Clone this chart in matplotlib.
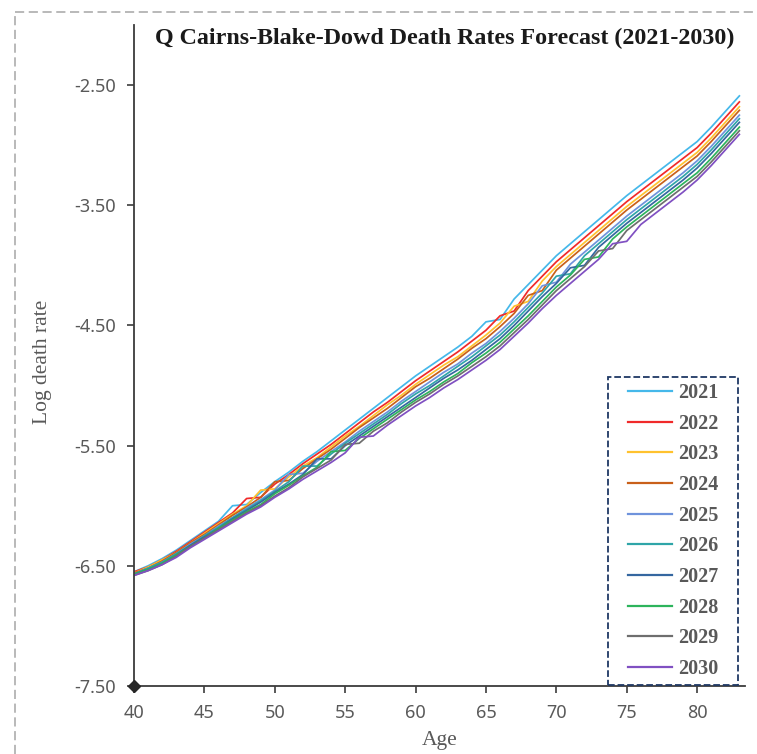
import numpy as np
import matplotlib
matplotlib.use("Agg")
import matplotlib.pyplot as plt
from matplotlib.lines import Line2D
from matplotlib.patches import Rectangle

# ages on the x axis
ages = np.arange(40, 84)

# log death rates, one list per forecast year
y2021 = [-6.55, -6.50, -6.44, -6.37, -6.29, -6.21, -6.13, -6.00, -5.99, -5.89,
         -5.80, -5.72, -5.63, -5.55, -5.46, -5.37, -5.28, -5.19, -5.10, -5.01,
         -4.92, -4.84, -4.76, -4.68, -4.59, -4.47, -4.45, -4.28, -4.16, -4.04,
         -3.92, -3.82, -3.72, -3.62, -3.52, -3.42, -3.33, -3.24, -3.15, -3.06,
         -2.97, -2.85, -2.72, -2.59]
y2022 = [-6.55, -6.51, -6.45, -6.38, -6.30, -6.22, -6.14, -6.06, -5.94, -5.93,
         -5.82, -5.74, -5.65, -5.57, -5.49, -5.40, -5.31, -5.22, -5.14, -5.05,
         -4.96, -4.88, -4.80, -4.72, -4.63, -4.54, -4.42, -4.38, -4.21, -4.09,
         -3.97, -3.87, -3.77, -3.67, -3.57, -3.47, -3.38, -3.29, -3.20, -3.11,
         -3.02, -2.90, -2.77, -2.64]
y2023 = [-6.56, -6.51, -6.45, -6.39, -6.31, -6.23, -6.15, -6.07, -6.00, -5.87,
         -5.86, -5.76, -5.67, -5.60, -5.51, -5.42, -5.34, -5.25, -5.16, -5.08,
         -4.99, -4.91, -4.83, -4.76, -4.67, -4.58, -4.48, -4.34, -4.30, -4.13,
         -4.01, -3.91, -3.81, -3.71, -3.61, -3.51, -3.42, -3.33, -3.24, -3.15,
         -3.06, -2.94, -2.81, -2.68]
y2024 = [-6.56, -6.52, -6.46, -6.39, -6.31, -6.24, -6.16, -6.08, -6.01, -5.93,
         -5.80, -5.79, -5.69, -5.61, -5.53, -5.44, -5.35, -5.27, -5.19, -5.10,
         -5.01, -4.94, -4.86, -4.78, -4.69, -4.61, -4.51, -4.40, -4.25, -4.21,
         -4.04, -3.94, -3.84, -3.74, -3.64, -3.54, -3.45, -3.36, -3.27, -3.18,
         -3.09, -2.97, -2.84, -2.71]
y2025 = [-6.57, -6.52, -6.47, -6.40, -6.32, -6.25, -6.17, -6.10, -6.02, -5.95,
         -5.87, -5.74, -5.73, -5.63, -5.55, -5.47, -5.38, -5.30, -5.22, -5.13,
         -5.05, -4.97, -4.89, -4.82, -4.73, -4.65, -4.55, -4.44, -4.32, -4.17,
         -4.14, -3.99, -3.89, -3.79, -3.69, -3.59, -3.50, -3.41, -3.32, -3.23,
         -3.13, -3.01, -2.88, -2.75]
y2026 = [-6.57, -6.52, -6.47, -6.40, -6.33, -6.25, -6.18, -6.10, -6.03, -5.96,
         -5.88, -5.80, -5.67, -5.67, -5.57, -5.48, -5.40, -5.32, -5.24, -5.15,
         -5.07, -5.00, -4.92, -4.84, -4.76, -4.67, -4.58, -4.47, -4.35, -4.23,
         -4.09, -4.07, -3.92, -3.82, -3.72, -3.62, -3.53, -3.44, -3.35, -3.26,
         -3.16, -3.04, -2.91, -2.78]
y2027 = [-6.57, -6.53, -6.48, -6.41, -6.33, -6.26, -6.19, -6.11, -6.04, -5.97,
         -5.89, -5.82, -5.74, -5.61, -5.61, -5.50, -5.42, -5.34, -5.26, -5.18,
         -5.10, -5.02, -4.94, -4.87, -4.79, -4.70, -4.61, -4.50, -4.38, -4.26,
         -4.15, -4.02, -4.00, -3.85, -3.75, -3.65, -3.56, -3.47, -3.38, -3.29,
         -3.19, -3.07, -2.94, -2.81]
y2028 = [-6.57, -6.53, -6.48, -6.41, -6.34, -6.27, -6.19, -6.12, -6.05, -5.99,
         -5.90, -5.83, -5.75, -5.68, -5.55, -5.54, -5.44, -5.36, -5.28, -5.20,
         -5.12, -5.05, -4.97, -4.90, -4.81, -4.73, -4.64, -4.53, -4.42, -4.30,
         -4.18, -4.08, -3.95, -3.93, -3.78, -3.68, -3.59, -3.50, -3.41, -3.32,
         -3.23, -3.11, -2.98, -2.85]
y2029 = [-6.58, -6.54, -6.49, -6.42, -6.34, -6.27, -6.20, -6.13, -6.06, -6.00,
         -5.92, -5.85, -5.76, -5.69, -5.62, -5.49, -5.48, -5.38, -5.31, -5.22,
         -5.14, -5.07, -4.99, -4.92, -4.84, -4.76, -4.67, -4.56, -4.45, -4.33,
         -4.21, -4.11, -4.01, -3.88, -3.86, -3.71, -3.62, -3.53, -3.44, -3.35,
         -3.26, -3.14, -3.01, -2.88]
y2030 = [-6.58, -6.54, -6.49, -6.43, -6.35, -6.28, -6.21, -6.14, -6.07, -6.01,
         -5.93, -5.86, -5.78, -5.71, -5.64, -5.56, -5.43, -5.42, -5.33, -5.25,
         -5.17, -5.10, -5.02, -4.95, -4.87, -4.79, -4.70, -4.59, -4.48, -4.36,
         -4.25, -4.15, -4.05, -3.95, -3.82, -3.80, -3.66, -3.57, -3.48, -3.39,
         -3.29, -3.17, -3.04, -2.91]

years = ["2021", "2022", "2023", "2024", "2025",
         "2026", "2027", "2028", "2029", "2030"]
series = [y2021, y2022, y2023, y2024, y2025,
          y2026, y2027, y2028, y2029, y2030]
colors = ["#45B8EA", "#F02A2A", "#FFC22E", "#C9601A", "#6F93DC",
          "#2FA5A8", "#3567A0", "#2DB45C", "#6E6E6E", "#8050C2"]

x_ticks = [40, 45, 50, 55, 60, 65, 70, 75, 80]
y_ticks = [-7.5, -6.5, -5.5, -4.5, -3.5, -2.5]

W, H = 757, 754
fig = plt.figure(figsize=(W/100, H/100), dpi=100)
ax = fig.add_axes([134/W, 1-686/H, (745-134)/W, (686-25)/H])

for yr, vals, c in zip(years, series, colors):
    ax.plot(ages, vals, '-', color=c, linewidth=1.25, label=yr)

ax.set_xlim(40, 83.4)
ax.set_ylim(-7.5, -2.0)
ax.set_xticks(x_ticks)
ax.set_yticks(y_ticks)
ax.set_yticklabels([f"{v:.2f}" for v in y_ticks])

axis_col = "#3C3C3C"
lab_col = "#595959"
for s in ["top", "right"]:
    ax.spines[s].set_visible(False)
for s in ["left", "bottom"]:
    ax.spines[s].set_color(axis_col)
    ax.spines[s].set_linewidth(1.3)
ax.tick_params(direction="out", length=5, width=1.2, color=axis_col,
               labelcolor=lab_col, labelsize=13, pad=8)
for t in ax.get_xticklabels() + ax.get_yticklabels():
    t.set_fontfamily("Noto Sans")

# diamond at the axis origin
ax.plot([0], [0], marker="D", color="#262626", markersize=6,
        transform=ax.transAxes, clip_on=False, zorder=6)

ax.text(0.508, 0.979, "Q Cairns-Blake-Dowd Death Rates Forecast (2021-2030)",
        transform=ax.transAxes, ha="center", va="center", fontsize=17.3,
        fontweight="bold", family="Liberation Serif", color="#1A1A1A")

fig.text(440/W, 1-740/H, "Age", ha="center", va="center", fontsize=15.5,
         family="Liberation Serif", color=lab_col)
fig.text(42/W, 1-362/H, "Log death rate", ha="center", va="center",
         rotation=90, fontsize=15.5, family="Liberation Serif", color=lab_col)

# legend entries without frame, dashed box drawn separately
box_x0, box_x1 = (608-134)/611, (738-134)/611
box_y0, box_y1 = (686-685)/661, (686-377)/661
leg = ax.legend(loc="center",
                bbox_to_anchor=((box_x0+box_x1)/2, (box_y0+box_y1)/2),
                frameon=False, borderpad=0, borderaxespad=0,
                handlelength=2.2, labelspacing=0.53, handletextpad=0.3,
                prop={"family": "Liberation Serif", "weight": "bold",
                      "size": 14.5})
for t in leg.get_texts():
    t.set_color(lab_col)
for h in leg.get_lines():
    h.set_linewidth(1.6)
ax.add_patch(Rectangle((box_x0, box_y0), box_x1-box_x0, box_y1-box_y0,
                       transform=ax.transAxes, fill=False,
                       edgecolor="#1F3864", linestyle="--", linewidth=1.3,
                       clip_on=False, zorder=5))

# dashed outer border (left and top edges visible)
bc = "#A6A6A6"
fig.add_artist(Line2D([15/W, 15/W], [0, 1-12/H], color=bc, lw=1.1,
                      linestyle=(0, (6, 3)), transform=fig.transFigure))
fig.add_artist(Line2D([15/W, 1], [1-12/H, 1-12/H], color=bc, lw=1.1,
                      linestyle=(0, (6, 3)), transform=fig.transFigure))

fig.savefig("out.png", dpi=100)
